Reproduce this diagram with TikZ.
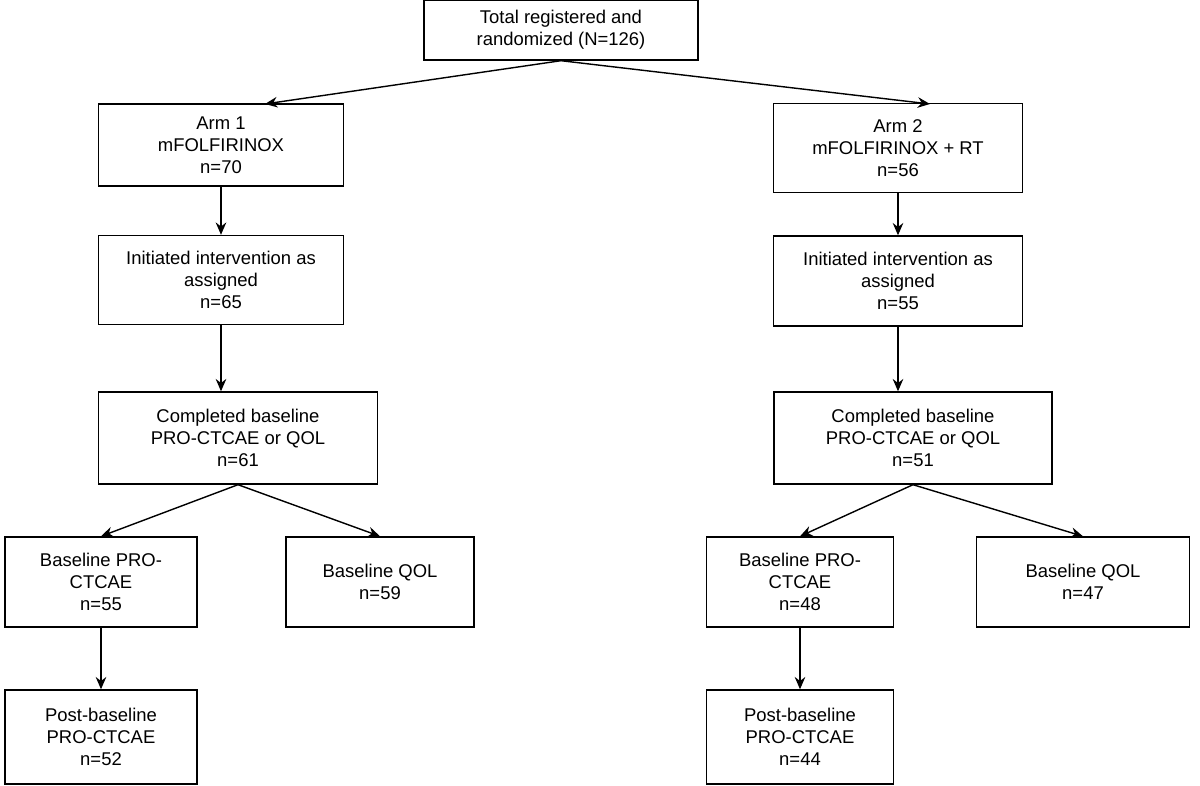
\documentclass[tikz,border=0pt]{standalone}
\usepackage{fontspec}
\setmainfont{Liberation Sans}
\usetikzlibrary{positioning, arrows.meta}

\begin{document}
\begin{tikzpicture}[x=0.02cm, y=-0.02cm, thick,
  box/.style={draw, align=center, inner sep=2pt, font=\fontsize{10.5}{12.5}\selectfont},
  flow/.style={-{Stealth[length=7pt,width=6pt]}}]
\useasboundingbox (0,0) rectangle (1200,786);

\node[box, minimum width=274*0.02cm, minimum height=60*0.02cm] (total) at (561,30) {Total registered and\\randomized (N=126)};

\node[box, minimum width=245*0.02cm, minimum height=82*0.02cm] (arm1) at (221,145) {Arm 1\\mFOLFIRINOX\\n=70};
\node[box, minimum width=249*0.02cm, minimum height=89*0.02cm] (arm2) at (898,148) {Arm 2\\mFOLFIRINOX + RT\\n=56};

\node[box, minimum width=245*0.02cm, minimum height=89*0.02cm] (init1) at (221,280) {Initiated intervention as\\assigned\\n=65};
\node[box, minimum width=249*0.02cm, minimum height=90*0.02cm] (init2) at (898,281) {Initiated intervention as\\assigned\\n=55};

\node[box, minimum width=279*0.02cm, minimum height=92*0.02cm] (comp1) at (238,438) {Completed baseline\\PRO-CTCAE or QOL\\n=61};
\node[box, minimum width=278*0.02cm, minimum height=92*0.02cm] (comp2) at (913,438) {Completed baseline\\PRO-CTCAE or QOL\\n=51};

\node[box, minimum width=192*0.02cm, minimum height=90*0.02cm] (bpro1) at (101,582) {Baseline PRO-\\CTCAE\\n=55};
\node[box, minimum width=188*0.02cm, minimum height=90*0.02cm] (bqol1) at (380,582) {Baseline QOL\\n=59};
\node[box, minimum width=187*0.02cm, minimum height=90*0.02cm] (bpro2) at (800,582) {Baseline PRO-\\CTCAE\\n=48};
\node[box, minimum width=213*0.02cm, minimum height=90*0.02cm] (bqol2) at (1083,582) {Baseline QOL\\n=47};

\node[box, minimum width=192*0.02cm, minimum height=94*0.02cm] (post1) at (101,737) {Post-baseline\\PRO-CTCAE\\n=52};
\node[box, minimum width=187*0.02cm, minimum height=94*0.02cm] (post2) at (800,737) {Post-baseline\\PRO-CTCAE\\n=44};

% branches
\draw[flow] (total.south) -- (265,104);
\draw[flow] (total.south) -- (930,104);
\draw[flow] (arm1.south) -- (init1.north);
\draw[flow] (arm2.south) -- (init2.north);
\draw[flow] (init1.south) -- (comp1.north -| init1.south);
\draw[flow] (init2.south) -- (comp2.north -| init2.south);
\draw[flow] (comp1.south) -- (bpro1.north);
\draw[flow] (comp1.south) -- (bqol1.north);
\draw[flow] (comp2.south) -- (bpro2.north);
\draw[flow] (comp2.south) -- (bqol2.north);
\draw[flow] (bpro1.south) -- (post1.north);
\draw[flow] (bpro2.south) -- (post2.north);
\end{tikzpicture}
\end{document}
